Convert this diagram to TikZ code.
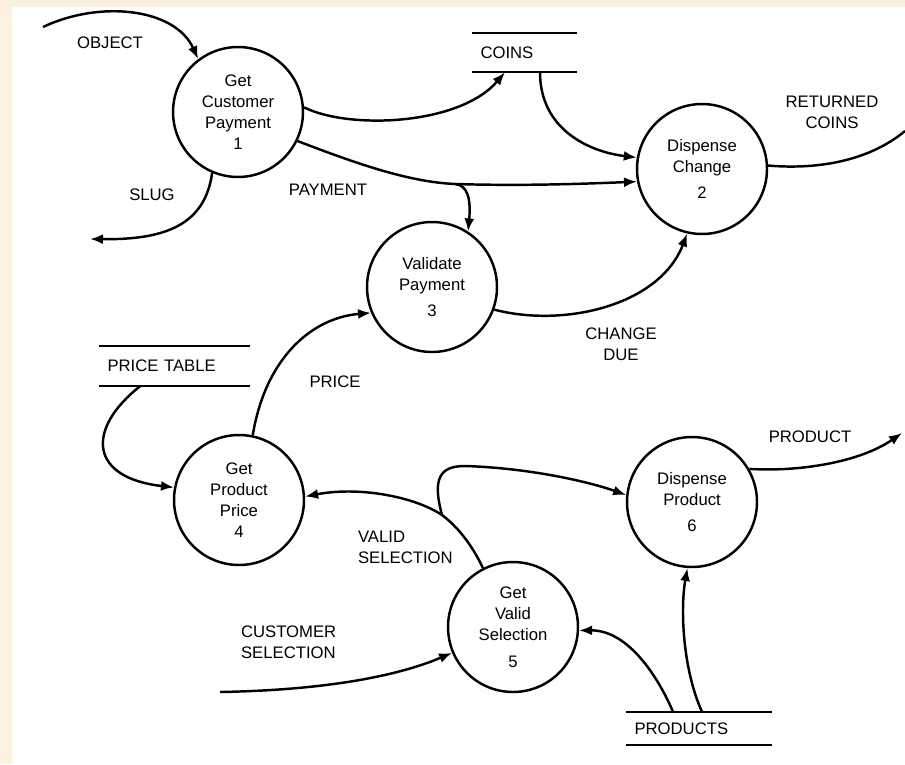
\documentclass[tikz,border=0pt]{standalone}
\usepackage{fontspec}
\setmainfont{Liberation Sans}
\usetikzlibrary{arrows.meta}
\definecolor{cream}{HTML}{FCF1DF}
\newcommand{\dfdfont}{\fontsize{9.5}{12}\selectfont}

\begin{document}
\begin{tikzpicture}[x=0.02cm, y=-0.02cm, line width=1.4pt,
  >={Latex[length=2.6mm,width=2mm]},
  proc/.style={circle, draw, minimum size=2.6cm, inner sep=0pt, align=center, font=\dfdfont},
  store/.style={inner xsep=0.15cm, inner ysep=0pt, text width=#1, align=left, font=\dfdfont},
  flow/.style={font=\dfdfont, align=center}]
% page and scan border
\useasboundingbox (0,0) rectangle (905,764);
\fill[cream] (0,0) rectangle (905,764);
\fill[white] (12,7) rectangle (905,764);
% processes
\node[proc] (c1) at (238,112) {Get\\Customer\\Payment\\1};
\node[proc] (c2) at (702,169) {Dispense\\Change\\[3pt]2};
\node[proc] (c3) at (432,287) {Validate\\Payment\\[3pt]3};
\node[proc] (c4) at (239,500) {Get\\Product\\Price\\4};
\node[proc] (c5) at (513,627) {Get\\Valid\\Selection\\[3pt]5};
\node[proc] (c6) at (692,502) {Dispense\\Product\\[3pt]6};
% data stores
\node[store=1.76cm, minimum height=0.74cm] (coins) at (524.5,52.5) {COINS};
\node[store=2.68cm, minimum height=0.76cm] (pt) at (174.5,366) {PRICE TABLE};
\node[store=2.58cm, minimum height=0.62cm] (prods) at (699,728.5) {PRODUCTS};
\foreach \s in {coins,pt,prods}
  \draw (\s.north west) -- (\s.north east) (\s.south west) -- (\s.south east);
% free ends
\coordinate (objin) at (43,27);
\coordinate (slugout) at (90,239);
\coordinate (retout) at (905,131);
\coordinate (prodout) at (902,433);
\coordinate (custin) at (220,692);
\coordinate (pay) at (455,184);
\coordinate (vsel) at (442,515);
% flows
\draw[->] (objin) .. controls (100,0) and (175,8) .. (c1.127);
\draw[->] (c1.247) .. controls (205,225) and (165,240) .. (slugout);
\draw[->] (c1.4) .. controls (350,130) and (460,125) .. ([xshift=-0.39cm]coins.south);
\draw[->] ([xshift=0.31cm]coins.south) .. controls (540,130) and (590,152) .. (c2.170);
\draw (c1.334) .. controls (360,165) and (410,182) .. (pay);
\draw[->] (pay) .. controls (520,186) and (580,184) .. (c2.191);
\draw[->] (pay) .. controls (468,185) and (471,200) .. (c3.57);
\draw[->] (c3.340) .. controls (565,328) and (660,305) .. (c2.257);
\draw (c2.3) .. controls (820,170) and (870,160) .. (retout);
\draw[->] ([xshift=-0.69cm]pt.south) .. controls (85,430) and (90,478) .. (c4.169);
\draw[->] (c4.78) .. controls (265,360) and (310,318) .. (c3.203);
\draw (c5.117) .. controls (472,545) and (458,527) .. (vsel);
\draw[->] (vsel) .. controls (415,497) and (360,486) .. (c4.3);
\draw[->] (vsel) .. controls (432,478) and (440,466) .. (465,466)
  .. controls (530,468) and (590,482) .. (c6.174);
\draw[->] (custin) .. controls (330,690) and (400,675) .. (c5.203);
\draw[->] ([xshift=-0.52cm]prods.north) .. controls (655,670) and (625,630) .. (c5.357);
\draw[->] ([xshift=0.06cm]prods.north) .. controls (683,670) and (680,610) .. (c6.266);
\draw[->] (c6.30) .. controls (800,472) and (860,462) .. (prodout);
% flow labels
\node[flow] (lobj) at (110,43) {OBJECT};
\node[flow] (lslug) at (152,195) {SLUG};
\node[flow] (lpay) at (328,190) {PAYMENT};
\node[flow] (lret) at (832,112) {RETURNED\\COINS};
\node[flow] (lchg) at (621,344) {CHANGE\\DUE};
\node[flow] (lprice) at (335,382) {PRICE};
\node[flow, align=left, anchor=west] (lvalid) at (351,547) {VALID\\SELECTION};
\node[flow, align=left, anchor=west] (lcust) at (234,642) {CUSTOMER\\SELECTION};
\node[flow] (lprod) at (810,437) {PRODUCT};
\end{tikzpicture}
\end{document}
